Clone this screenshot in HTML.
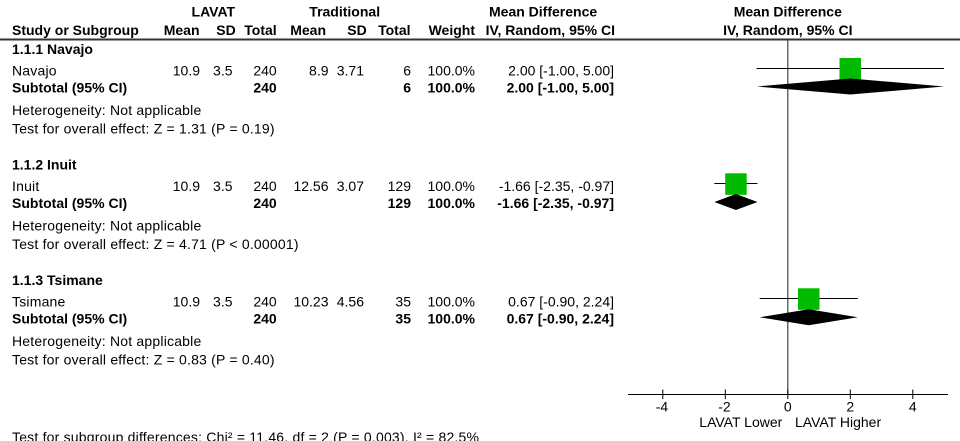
<!DOCTYPE html>
<html>
<head>
<meta charset="utf-8">
<style>
  html, body { margin:0; padding:0; background:#ffffff; }
  body { width:960px; height:441px; overflow:hidden; }
  svg { display:block; }
  text { font-family: "Liberation Sans", Arial, sans-serif; font-size:14px; fill:#000; }
  .b { font-weight:bold; }
  .e { text-anchor:end; }
  .m { text-anchor:middle; }
  .w { letter-spacing:0.2px; }
</style>
</head>
<body>
<svg width="960" height="441" viewBox="0 0 960 441" xmlns="http://www.w3.org/2000/svg">
  <rect x="0" y="0" width="960" height="441" fill="#ffffff"/>

  <!-- Header row 1 -->
  <text class="b m" x="213.3" y="16.5">LAVAT</text>
  <text class="b m" x="344.7" y="16.5">Traditional</text>
  <text class="b" x="489" y="16.5">Mean Difference</text>
  <text class="b m" x="787.8" y="16.5">Mean Difference</text>

  <!-- Header row 2 -->
  <text class="b" x="12" y="35">Study or Subgroup</text>
  <text class="b e" x="199.5" y="35">Mean</text>
  <text class="b e" x="235.7" y="35">SD</text>
  <text class="b e" x="276.7" y="35">Total</text>
  <text class="b e" x="326" y="35">Mean</text>
  <text class="b e" x="366.7" y="35">SD</text>
  <text class="b e" x="410.5" y="35">Total</text>
  <text class="b e" x="475" y="35">Weight</text>
  <text class="b e" x="615" y="35">IV, Random, 95% CI</text>
  <text class="b m" x="787.8" y="35">IV, Random, 95% CI</text>

  <!-- Header rule -->
  <rect x="0" y="38.5" width="960" height="2" fill="#333"/>

  <!-- Section 1: Navajo -->
  <text class="b" x="12" y="54">1.1.1 Navajo</text>
  <text class="w" x="12" y="75.3">Navajo</text>
  <text class="e" x="200" y="75.3">10.9</text>
  <text class="e" x="232.5" y="75.3">3.5</text>
  <text class="e" x="276.7" y="75.3">240</text>
  <text class="e" x="328.5" y="75.3">8.9</text>
  <text class="e" x="364" y="75.3">3.71</text>
  <text class="e" x="411" y="75.3">6</text>
  <text class="e" x="475" y="75.3">100.0%</text>
  <text class="e" x="614" y="75.3">2.00 [-1.00, 5.00]</text>

  <text class="b" x="12" y="92.7">Subtotal (95% CI)</text>
  <text class="b e" x="276.7" y="92.7">240</text>
  <text class="b e" x="411" y="92.7">6</text>
  <text class="b e" x="475" y="92.7">100.0%</text>
  <text class="b e" x="614" y="92.7">2.00 [-1.00, 5.00]</text>

  <text class="w" x="12" y="115">Heterogeneity: Not applicable</text>
  <text class="w" x="12" y="133.3">Test for overall effect: Z = 1.31 (P = 0.19)</text>

  <!-- Section 2: Inuit -->
  <text class="b" x="12" y="169.5">1.1.2 Inuit</text>
  <text class="w" x="12" y="190.8">Inuit</text>
  <text class="e" x="200" y="190.8">10.9</text>
  <text class="e" x="232.5" y="190.8">3.5</text>
  <text class="e" x="276.7" y="190.8">240</text>
  <text class="e" x="328.5" y="190.8">12.56</text>
  <text class="e" x="364" y="190.8">3.07</text>
  <text class="e" x="411" y="190.8">129</text>
  <text class="e" x="475" y="190.8">100.0%</text>
  <text class="e" x="614" y="190.8">-1.66 [-2.35, -0.97]</text>

  <text class="b" x="12" y="208.2">Subtotal (95% CI)</text>
  <text class="b e" x="276.7" y="208.2">240</text>
  <text class="b e" x="411" y="208.2">129</text>
  <text class="b e" x="475" y="208.2">100.0%</text>
  <text class="b e" x="614" y="208.2">-1.66 [-2.35, -0.97]</text>

  <text class="w" x="12" y="230.5">Heterogeneity: Not applicable</text>
  <text class="w" x="12" y="248.8">Test for overall effect: Z = 4.71 (P &lt; 0.00001)</text>

  <!-- Section 3: Tsimane -->
  <text class="b" x="12" y="285">1.1.3 Tsimane</text>
  <text class="w" x="12" y="306.3">Tsimane</text>
  <text class="e" x="200" y="306.3">10.9</text>
  <text class="e" x="232.5" y="306.3">3.5</text>
  <text class="e" x="276.7" y="306.3">240</text>
  <text class="e" x="328.5" y="306.3">10.23</text>
  <text class="e" x="364" y="306.3">4.56</text>
  <text class="e" x="411" y="306.3">35</text>
  <text class="e" x="475" y="306.3">100.0%</text>
  <text class="e" x="614" y="306.3">0.67 [-0.90, 2.24]</text>

  <text class="b" x="12" y="323.7">Subtotal (95% CI)</text>
  <text class="b e" x="276.7" y="323.7">240</text>
  <text class="b e" x="411" y="323.7">35</text>
  <text class="b e" x="475" y="323.7">100.0%</text>
  <text class="b e" x="614" y="323.7">0.67 [-0.90, 2.24]</text>

  <text class="w" x="12" y="346">Heterogeneity: Not applicable</text>
  <text class="w" x="12" y="364.3">Test for overall effect: Z = 0.83 (P = 0.40)</text>

  <!-- Bottom text (partially cut) -->
  <text class="w" x="12" y="442">Test for subgroup differences: Chi² = 11.46, df = 2 (P = 0.003), I² = 82.5%</text>

  <!-- Forest plot -->
  <line x1="787.8" y1="40" x2="787.8" y2="394.5" stroke="#444" stroke-width="1.2"/>

  <!-- Navajo -->
  <line x1="756.55" y1="68.5" x2="944.05" y2="68.5" stroke="#000" stroke-width="1"/>
  <rect x="839.5" y="58" width="21.5" height="21.5" fill="#00BB00"/>
  <polygon points="756.55,86.5 850.3,78.5 944.05,86.5 850.3,94.5" fill="#000"/>

  <!-- Inuit -->
  <line x1="714.36" y1="183.5" x2="757.49" y2="183.5" stroke="#000" stroke-width="1"/>
  <rect x="725.2" y="173.3" width="21.5" height="21.5" fill="#00BB00"/>
  <polygon points="714.36,202 735.9,194 757.49,202 735.9,210" fill="#000"/>

  <!-- Tsimane -->
  <line x1="759.7" y1="298.5" x2="857.8" y2="298.5" stroke="#000" stroke-width="1"/>
  <rect x="798" y="288.3" width="21.5" height="21.5" fill="#00BB00"/>
  <polygon points="759.7,317.3 808.7,309.3 857.8,317.3 808.7,325.3" fill="#000"/>

  <!-- Axis -->
  <line x1="628" y1="394.5" x2="948" y2="394.5" stroke="#000" stroke-width="1"/>
  <line x1="662.8" y1="389.5" x2="662.8" y2="399" stroke="#000" stroke-width="1"/>
  <line x1="725.3" y1="389.5" x2="725.3" y2="399" stroke="#000" stroke-width="1"/>
  <line x1="787.8" y1="389.5" x2="787.8" y2="399" stroke="#000" stroke-width="1"/>
  <line x1="850.3" y1="389.5" x2="850.3" y2="399" stroke="#000" stroke-width="1"/>
  <line x1="912.8" y1="389.5" x2="912.8" y2="399" stroke="#000" stroke-width="1"/>

  <text class="m" x="662" y="411.5">-4</text>
  <text class="m" x="724.5" y="411.5">-2</text>
  <text class="m" x="787.8" y="411.5">0</text>
  <text class="m" x="850.3" y="411.5">2</text>
  <text class="m" x="912.8" y="411.5">4</text>

  <text class="e" x="782.3" y="427">LAVAT Lower</text>
  <text x="795" y="427">LAVAT Higher</text>
</svg>
</body>
</html>
